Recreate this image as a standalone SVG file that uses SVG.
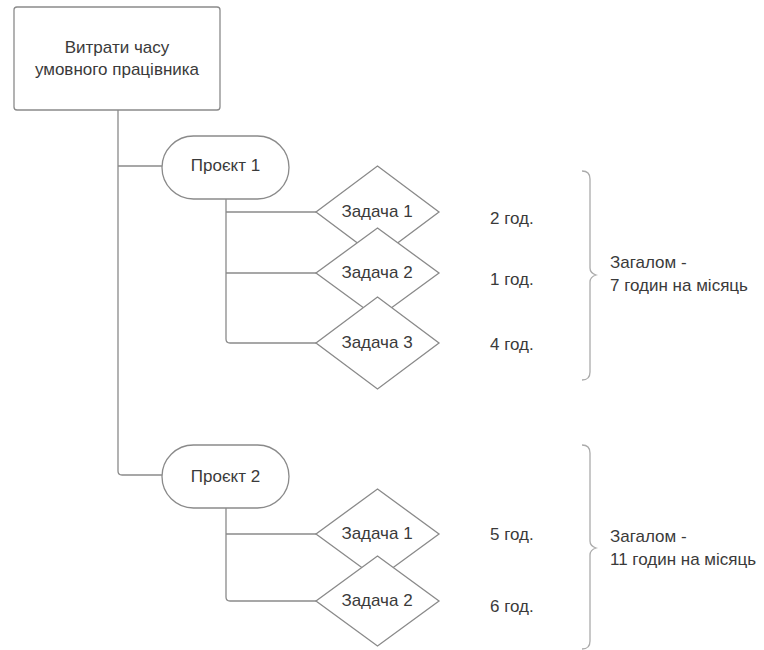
<svg xmlns="http://www.w3.org/2000/svg" width="764" height="650" viewBox="0 0 764 650">
<style>
.shape{fill:#ffffff;stroke:#8a8a8a;stroke-width:1.3}
.conn{fill:none;stroke:#8a8a8a;stroke-width:1.3}
.brace{fill:none;stroke:#ababab;stroke-width:1.3}
text{font-family:"Liberation Sans",Arial,sans-serif;font-size:17px;fill:#3a3a3a}
.c{text-anchor:middle}
</style>
<rect width="764" height="650" fill="#ffffff"/>
<g id="connectors">
<path class="conn" d="M118,110 L118,471 Q118,475 122,475 L162,475"/>
<path class="conn" d="M118,166 L162,166"/>
<path class="conn" d="M226,199 L226,339 Q226,343 230,343 L316,343"/>
<path class="conn" d="M226,212 L316,212"/>
<path class="conn" d="M226,273 L316,273"/>
<path class="conn" d="M226,508 L226,597 Q226,601 230,601 L316,601"/>
<path class="conn" d="M226,534 L316,534"/>
</g>
<g id="root">
<rect class="shape" x="14" y="7" width="206" height="103" rx="3"/>
<text class="c" x="117" y="53">Витрати часу</text>
<text class="c" x="117" y="75">умовного працівника</text>
</g>
<g id="project1">
<rect class="shape" x="162" y="136" width="127" height="63" rx="31.5"/>
<text class="c" x="225.5" y="171">Проєкт 1</text>
</g>
<g id="p1task1">
<polygon class="shape" points="377.5,166 439,212 377.5,258 316,212"/>
<text class="c" x="377" y="217">Задача 1</text>
</g>
<g id="p1task2">
<polygon class="shape" points="377.5,228 439,273 377.5,318 316,273"/>
<text class="c" x="377" y="278">Задача 2</text>
</g>
<g id="p1task3">
<polygon class="shape" points="377.5,297 439,343 377.5,389 316,343"/>
<text class="c" x="377" y="347.5">Задача 3</text>
</g>
<g id="project2">
<rect class="shape" x="162" y="445" width="127" height="63" rx="31.5"/>
<text class="c" x="225.5" y="481.5">Проєкт 2</text>
</g>
<g id="p2task1">
<polygon class="shape" points="377.5,489 439,534 377.5,579 316,534"/>
<text class="c" x="377" y="539">Задача 1</text>
</g>
<g id="p2task2">
<polygon class="shape" points="377.5,556 439,601 377.5,646 316,601"/>
<text class="c" x="377" y="606">Задача 2</text>
</g>
<g id="hours1">
<text x="490" y="224">2 год.</text>
<text x="490" y="285">1 год.</text>
<text x="490" y="350">4 год.</text>
</g>
<g id="total1">
<path class="brace" d="M582,171 Q590,171 590,179 L590,268 Q590,273 596,275 Q590,277 590,282 L590,372 Q590,380 582,380"/>
<text x="610" y="268">Загалом -</text>
<text x="610" y="290.5">7 годин на місяць</text>
</g>
<g id="hours2">
<text x="490" y="540">5 год.</text>
<text x="490" y="611.5">6 год.</text>
</g>
<g id="total2">
<path class="brace" d="M582,445 Q590,445 590,453 L590,541 Q590,546 596,548 Q590,550 590,555 L590,641 Q590,649 582,649"/>
<text x="610" y="542">Загалом -</text>
<text x="610" y="565">11 годин на місяць</text>
</g>
</svg>
